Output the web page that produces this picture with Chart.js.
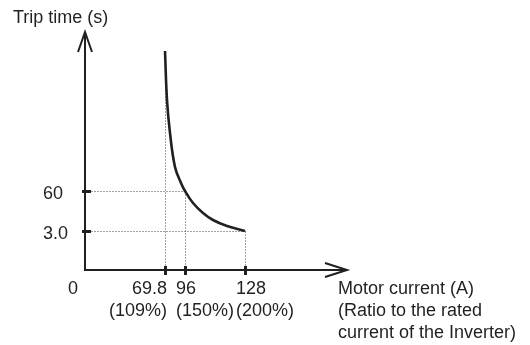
<!DOCTYPE html>
<html>
<head>
<meta charset="utf-8">
<script src="https://cdn.jsdelivr.net/npm/chart.js@4"></script>
<style>
  html, body { margin: 0; padding: 0; background: #fff; }
  canvas { display: block; }
</style>
</head>
<body>
<canvas id="trip" width="530" height="345"></canvas>
<script>
// schematic curve (axes are not to scale, values are positions along each axis)
const curveX = [80, 82, 85, 90, 96, 100, 108, 118, 128, 142, 160];
const curveY = [219, 170, 137, 103, 87, 79, 67, 57, 50, 44, 39];

// where the labelled values sit on the schematic axes
const currentTicks = ['69.8', '96', '128'];
const ratioTicks = ['(109%)', '(150%)', '(200%)'];
const currentAt = [80, 100, 160];
const timeTicks = ['60', '3.0'];
const timeAt = [79, 39];

const xTitle = ['Motor current (A)', '(Ratio to the rated', 'current of the Inverter)'];
const yTitle = 'Trip time (s)';

const INK = '#231f20';
const FONT = '18px "Liberation Sans", Arial, sans-serif';

const curve = curveX.map((x, i) => ({ x, y: curveY[i] }));

// dotted guide lines built from the tick positions
const guides = [];
currentAt.forEach(x => {
  // top of each drop line is where the curve is at that current
  const idx = curveX.indexOf(x);
  guides.push({ x, y: curveY[idx] }, { x, y: 0 }, { x: NaN, y: NaN });
});
timeAt.forEach(y => {
  const idx = curveY.indexOf(y);
  guides.push({ x: 0, y }, { x: curveX[idx], y }, { x: NaN, y: NaN });
});

const axesPlugin = {
  id: 'schematicAxes',
  // keep the 1px dotted guides on whole pixels so they stay crisp
  beforeDatasetDraw(chart, args) {
    if (args.index === 1) {
      chart.ctx.save();
      chart.ctx.translate(0.5, 0.5);
    }
  },
  afterDatasetDraw(chart, args) {
    if (args.index === 1) chart.ctx.restore();
  },
  afterDatasetsDraw(chart) {
    const { ctx, chartArea: a, scales } = chart;
    const x0 = a.left, y0 = a.bottom;
    ctx.save();
    ctx.strokeStyle = INK;
    ctx.fillStyle = INK;
    ctx.lineWidth = 2;
    ctx.lineCap = 'butt';

    // axis lines
    ctx.beginPath();
    ctx.moveTo(x0, a.top + 1);
    ctx.lineTo(x0, y0);
    ctx.lineTo(a.right - 1, y0);
    ctx.stroke();

    // open arrow heads
    ctx.beginPath();
    ctx.moveTo(x0 - 7, a.top + 20);
    ctx.lineTo(x0, a.top);
    ctx.lineTo(x0 + 7, a.top + 20);
    ctx.moveTo(a.right - 22, y0 - 7);
    ctx.lineTo(a.right, y0);
    ctx.lineTo(a.right - 22, y0 + 7);
    ctx.stroke();

    // tick marks
    ctx.lineWidth = 3;
    ctx.beginPath();
    currentAt.forEach(v => {
      const px = Math.round(scales.x.getPixelForValue(v)) + 0.5;
      ctx.moveTo(px, y0 - 4);
      ctx.lineTo(px, y0 + 5);
    });
    timeAt.forEach(v => {
      const py = Math.round(scales.y.getPixelForValue(v)) + 0.5;
      ctx.moveTo(x0 - 3, py);
      ctx.lineTo(x0 + 6, py);
    });
    ctx.stroke();

    // labels
    ctx.font = FONT;
    ctx.textBaseline = 'alphabetic';

    ctx.textAlign = 'left';
    ctx.fillText(yTitle, 13, 23);

    timeTicks.forEach((t, i) => {
      const py = scales.y.getPixelForValue(timeAt[i]);
      ctx.fillText(t, 43, py + 8);
    });

    ctx.textAlign = 'center';
    ctx.fillText('0', x0 - 12, y0 + 24);

    currentTicks.forEach((t, i) => {
      const px = scales.x.getPixelForValue(currentAt[i]);
      if (i === 0) {
        ctx.textAlign = 'right';
        ctx.fillText(t, px + 2, y0 + 24);
        ctx.fillText(ratioTicks[i], px + 2, y0 + 46);
      } else {
        ctx.textAlign = 'left';
        ctx.fillText(t, px - 9, y0 + 24);
        ctx.fillText(ratioTicks[i], px - 9, y0 + 46);
      }
    });

    ctx.textAlign = 'left';
    xTitle.forEach((line, i) => {
      ctx.fillText(line, a.right - 9, y0 + 24 + i * 22);
    });

    ctx.restore();
  },
};

new Chart(document.getElementById('trip'), {
  type: 'scatter',
  data: {
    datasets: [
      {
        data: curve,
        showLine: true,
        borderColor: INK,
        borderWidth: 2.6,
        tension: 0.4,
        pointRadius: 0,
        order: 0,
      },
      {
        data: guides,
        showLine: true,
        spanGaps: false,
        borderColor: '#444',
        borderWidth: 1,
        borderDash: [1, 2],
        pointRadius: 0,
        order: 1,
      },
    ],
  },
  options: {
    responsive: false,
    animation: false,
    layout: {
      padding: { left: 85, right: 183, top: 32, bottom: 75 },
    },
    scales: {
      x: { type: 'linear', min: 0, max: 262, display: false },
      y: { type: 'linear', min: 0, max: 238, display: false },
    },
    plugins: {
      legend: { display: false },
      tooltip: { enabled: false },
    },
  },
  plugins: [axesPlugin],
});
</script>
</body>
</html>
